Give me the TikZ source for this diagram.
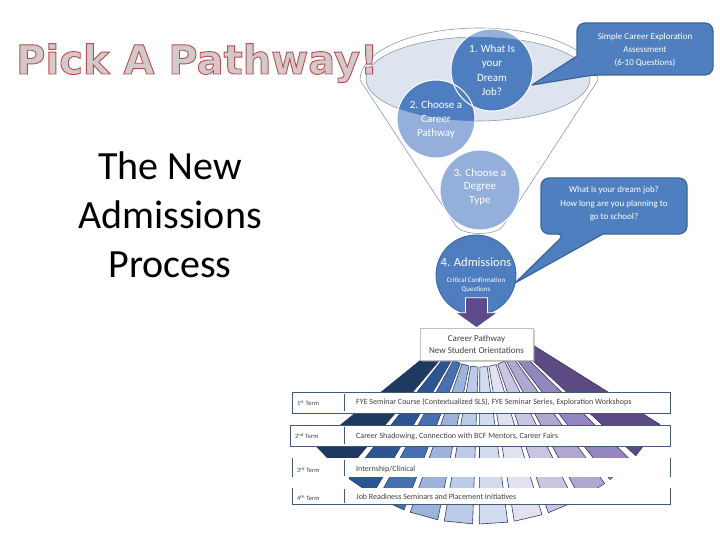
\documentclass[tikz,border=0pt]{standalone}
\usepackage{fontspec}
\setmainfont{Carlito}
\newfontfamily\titlefont{DejaVu Sans}
\usetikzlibrary{shadows,calc}
\definecolor{titlefill}{HTML}{D2CACA}
\definecolor{cdark}{HTML}{4E7EBF}
\definecolor{clight}{HTML}{93AFDA}
\definecolor{rimfill}{HTML}{DDE4F0}
\definecolor{funnelline}{HTML}{8C9BB0}
\definecolor{callfill}{HTML}{4F7FBE}
\definecolor{callline}{HTML}{3A6598}
\definecolor{arrowc}{HTML}{5F4B8B}
\definecolor{rowline}{HTML}{415A78}
\definecolor{rowtext}{HTML}{404040}
\definecolor{fanline}{HTML}{2B3F63}
\definecolor{fanA}{HTML}{1F3A60}
\definecolor{fanB}{HTML}{2D5493}
\definecolor{fanC}{HTML}{4670B2}
\definecolor{fanD}{HTML}{9EB3DC}
\definecolor{fanE}{HTML}{BCCBE8}
\definecolor{fanF}{HTML}{D3DCEF}
\definecolor{fanG}{HTML}{E2E1F0}
\definecolor{fanH}{HTML}{CCC5E1}
\definecolor{fanI}{HTML}{B1A7D0}
\definecolor{fanJ}{HTML}{9485BE}
\definecolor{fanK}{HTML}{5C4A85}
\newcommand{\outlined}[1]{\special{pdf:literal direct q 2 Tr 0.9 w 0.74 0.30 0.30 RG}#1\special{pdf:literal direct Q}}
\begin{document}
\begin{tikzpicture}[x=1pt,y=-1pt,
  subtext/.style={anchor=base, inner sep=0pt, font=\fontsize{40}{48}\selectfont},
  ctext/.style={circle, minimum size=78pt, inner sep=0pt, align=center, text=white},
  calltext/.style={align=center, text=white, inner sep=0pt, font=\fontsize{9}{13}\selectfont},
  callout/.style={fill=callfill, draw=callline, line width=1.2pt, line join=round},
  rowbox/.style={fill=white, draw=rowline, line width=1pt},
  rowedge/.style={draw=rowline, line width=1pt},
  termtext/.style={anchor=west, inner sep=0pt, text=rowtext, font=\fontsize{6.5}{8}\selectfont},
  rowtextst/.style={anchor=west, inner sep=0pt, text=rowtext, font=\fontsize{8}{10}\selectfont},
  funnel/.style={fill=white, draw=funnelline, line width=0.6pt},
  fanray/.style={draw=fanline, line width=0.6pt, line join=round}
]
\useasboundingbox (0,0) rectangle (720,540);

% subtitle
\node[subtext] (sub1) at (170,180) {The New};
\node[subtext] (sub2) at (170,229) {Admissions};
\node[subtext] (sub3) at (170,277) {Process};

% funnel
\draw[funnel] (360,80) arc[start angle=180, end angle=0, x radius=119pt, y radius=52pt]
  -- (503,226) .. controls (496,236) and (463,236) .. (456,226) -- cycle;
\filldraw[fill=rimfill, draw=funnelline, line width=0.6pt] (478,79) ellipse [x radius=112pt, y radius=42pt];

% circles
\coordinate (c1) at (492,70);
\coordinate (c2) at (436,119);
\coordinate (c3) at (480,190);
\coordinate (c4) at (476,275);
\fill[clight] (c2) circle[radius=39pt];
\fill[clight] (c1) circle[radius=41pt];
\begin{scope}
  \clip (478,79) ellipse [x radius=112pt, y radius=42pt];
  \fill[cdark] (c2) circle[radius=39pt];
  \fill[cdark] (c1) circle[radius=41pt];
\end{scope}
\draw[white, line width=1pt] (c2) circle[radius=39pt];
\draw[white, line width=1pt] (c1) circle[radius=41pt];
\filldraw[fill=clight, draw=white, line width=1pt] (c3) circle[radius=40pt];
\filldraw[fill=cdark, draw=callline, line width=0.8pt] (c4) circle[radius=40pt];

\node[ctext, font=\fontsize{11}{14.5}\selectfont] (q1) at (c1) {1. What Is\\your\\Dream\\Job?};
\node[ctext, font=\fontsize{11}{14}\selectfont] (q2) at ($(c2)+(0,1)$) {2. Choose a\\Career\\Pathway};
\node[ctext, font=\fontsize{11}{13.5}\selectfont] (q3) at ($(c3)+(0,-3)$) {3. Choose a\\Degree\\Type};
\node[anchor=base, inner sep=0pt, text=white, font=\fontsize{12.5}{14}\selectfont] (q4) at (476,266) {4. Admissions};
\node[align=center, inner sep=0pt, text=white, font=\fontsize{7}{9.5}\selectfont] (q4s) at (476,285) {Critical Confirmation\\Questions};

% callouts
\draw[callout] (577,56) [rounded corners=8pt] -- (577,23) -- (713,23) -- (713,75) -- (593,75) [sharp corners] -- (532,85) -- cycle;
\node[calltext] (call1) at (645,50) {Simple Career Exploration\\Assessment\\(6-10 Questions)};
\draw[callout] (603,234) [rounded corners=8pt] -- (687,234) -- (687,178) -- (541,178) -- (541,234) -- (565,234) [sharp corners] -- (515,283) -- cycle;
\node[calltext, font=\fontsize{9}{13.5}\selectfont] (call2) at (614,204) {What is your dream job?\\How long are you planning to\\go to school?};

% fan of rays
\begin{scope}[shift={(480,312)}]
\foreach \a/\b/\c in {130/141/fanA, 120.5/128.2/fanB, 111/118.7/fanC, 101.5/109.2/fanD, 92/99.7/fanE,
                     82.5/90.2/fanF, 73/80.7/fanG, 63.5/71.2/fanH, 54/61.7/fanI, 44.5/52.2/fanJ, 32/42.7/fanK}
  \filldraw[fanray, fill=\c] (\a:55) -- (\a:212) -- (\b:212) -- (\b:55) -- cycle;
\end{scope}

% orientation box and arrow
\node[fill=white, draw=black!25, line width=0.6pt, minimum width=113pt, minimum height=32pt,
      align=center, text=rowtext, font=\fontsize{9}{12}\selectfont,
      drop shadow={shadow xshift=2pt, shadow yshift=-2pt, fill=black!40, opacity=0.5}]
      (orient) at (476.5,344) {Career Pathway\\New Student Orientations};
\filldraw[fill=arrowc, draw=white, line width=0.8pt]
  ($(orient.north)+(-11,-30)$) -- ($(orient.north)+(11,-30)$) -- ($(orient.north)+(11,-15)$)
  -- ($(orient.north)+(21,-15)$) -- (orient.north) -- ($(orient.north)+(-21,-15)$)
  -- ($(orient.north)+(-11,-15)$) -- cycle;

% term rows
\draw[rowbox] (292,392) rectangle (670,413);
\draw[rowedge] (344,394) -- (344,411);
\node[termtext] (t1) at (297,403) {1\textsuperscript{st} Term};
\node[rowtextst] (r1) at (356,402) {FYE Seminar Course (Contextualized SLS), FYE Seminar Series, Exploration Workshops};

\draw[rowbox] (290,425) rectangle (670,446);
\draw[rowedge] (344,427) -- (344,444);
\node[termtext] (t2) at (295,436) {2\textsuperscript{nd} Term};
\node[rowtextst] (r2) at (356,436) {Career Shadowing, Connection with BCF Mentors, Career Fairs};

\fill[white] (292,458) rectangle (670,477);
\draw[rowedge] (292,458) -- (292,477);
\draw[rowedge] (670,458) -- (670,477);
\draw[rowedge] (344,460) -- (344,476);
\node[termtext] (t3) at (297,470) {3\textsuperscript{rd} Term};
\node[rowtextst] (r3) at (356,469) {Internship/Clinical};

\fill[white] (292,488) rectangle (670,504);
\draw[rowedge] (292,488) -- (292,504) -- (670,504) -- (670,488);
\draw[rowedge] (344,489) -- (344,503);
\node[termtext] (t4) at (297,498) {4\textsuperscript{th} Term};
\node[rowtextst] (r4) at (356,497) {Job Readiness Seminars and Placement Initiatives};

% title (on top of the funnel rim)
\node[anchor=base west, inner sep=0pt, text=titlefill,
      font=\titlefont\bfseries\fontsize{40}{44}\selectfont] (title) at (16,74) {\outlined{Pick A Pathway!}};
\end{tikzpicture}
\end{document}
